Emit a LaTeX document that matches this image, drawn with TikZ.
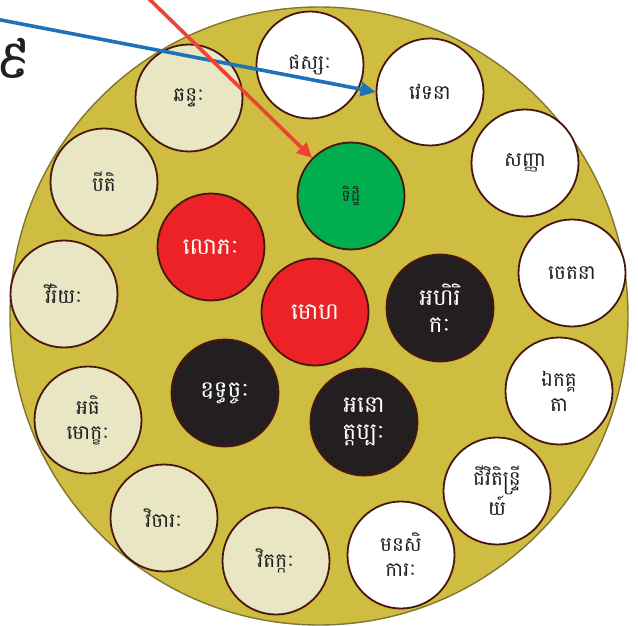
\documentclass[tikz,border=0pt]{standalone}
\usepackage{fontspec}
\newfontfamily\khmerfont[Script=Khmer]{Battambang}
\usetikzlibrary{arrows.meta}

\definecolor{plate}{RGB}{206,189,64}
\definecolor{plate rim}{RGB}{128,118,48}
\definecolor{rim}{RGB}{72,22,14}
\definecolor{cream}{RGB}{233,230,196}
\definecolor{ink}{RGB}{35,31,32}
\definecolor{lust}{RGB}{236,34,39}
\definecolor{view}{RGB}{0,174,77}
\definecolor{arrow blue}{RGB}{30,114,186}
\definecolor{arrow red}{RGB}{239,65,54}

\tikzset{
	every factor/.style={circle, draw=rim, line width=1.8pt, minimum size=107pt, inner sep=0pt,
		align=center, text=ink, font=\khmerfont\fontsize{20}{25}\selectfont},
	factor white/.style={fill=white},
	factor cream/.style={fill=cream},
	factor red/.style={fill=lust, text=white, font=\khmerfont\fontsize{23}{27}\selectfont},
	factor black/.style={fill=ink, text=white, font=\khmerfont\fontsize{23}{27}\selectfont},
	factor green/.style={fill=view, font=\khmerfont\fontsize{16}{18}\selectfont},
	pointer/.style={line width=3.6pt, ->}
}

\begin{document}
\begin{tikzpicture}[x=1pt, y=-1pt, >={Triangle[length=15pt, width=14pt]}]

	\useasboundingbox (0,0) rectangle (638,626);

	\node [circle, fill=plate, draw=plate rim, line width=1.4pt, minimum size=618pt, inner sep=0pt] (plate) at (319,316) {};

	\node [text=ink, font=\khmerfont\fontsize{54}{58}\selectfont] (nine) at (13,58) {៩};

	\foreach \n/\c/\x/\y/\t in {
		phassa/white/310/65/{ផស្សៈ},
		vedana/white/430/92/{វេទនា},
		sanna/white/525/163/{សញ្ញា},
		cetana/white/572/273/{ចេតនា},
		ekaggata/white/559/391/{ឯកគ្គ\\តា},
		jivita/white/497/491/{ជីវិតិន្ទ្រី\\យ៍},
		manasikara/white/401/555/{មនសិ\\ការៈ},
		vitakka/cream/276/561/{វិតក្កៈ},
		vicara/cream/164/518/{វិចារៈ},
		adhimokkha/cream/88/420/{អធិ\\មោក្ខៈ},
		viriya/cream/64/294/{វីរិយៈ},
		piti/cream/104/182/{បីតិ},
		chanda/cream/189/98/{ឆន្ទៈ},
		lobha/red/211/247/{លោភៈ},
		moha/red/315/312/{មោហ},
		ditthi/green/351/196/{ទិដ្ឋិ},
		ahirika/black/440/308/{អហិរិ\\កៈ},
		uddhacca/black/225/393/{ឧទ្ធច្ចៈ},
		anottappa/black/364/422/{អនោ\\ត្តប្បៈ}}
		\node [every factor, factor \c] (\n) at (\x,\y) {\t};

	% pointers coming in from outside
	\coordinate (blue-start) at (-20,16);
	\coordinate (red-start) at (140,-10);

	\draw [pointer, arrow blue] (blue-start) -- (vedana.west);
	\draw [pointer, arrow red] (red-start) -- (ditthi);

\end{tikzpicture}
\end{document}
